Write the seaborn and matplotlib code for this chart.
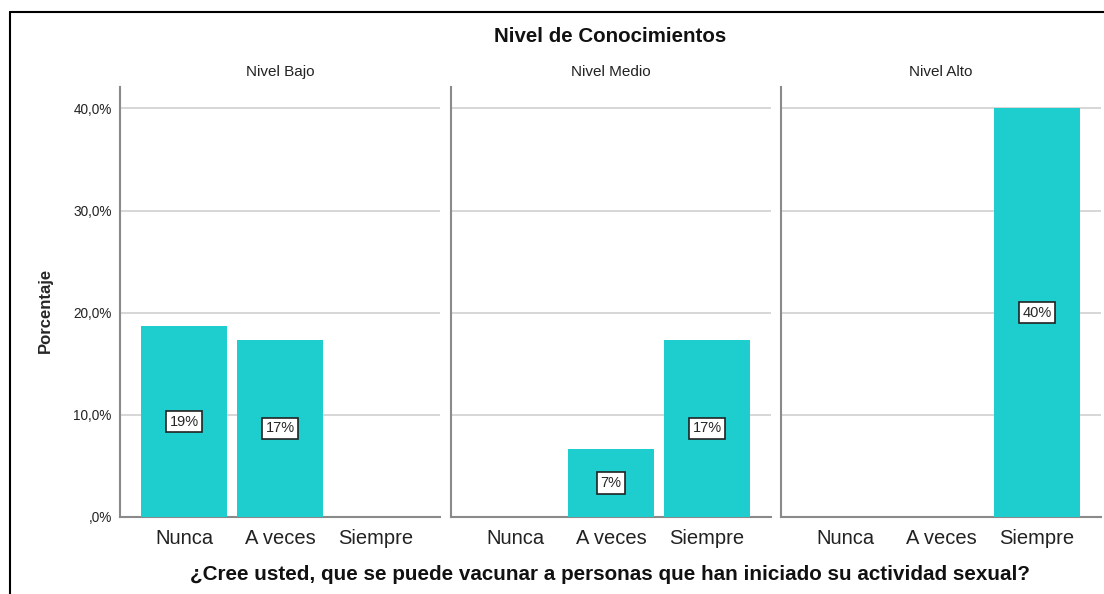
import pandas as pd
import seaborn as sns
import matplotlib.pyplot as plt
from matplotlib.lines import Line2D

# Data (percent of total, n = 75)
categorias = ['Nunca', 'A veces', 'Siempre']
niveles = ['Nivel Bajo', 'Nivel Medio', 'Nivel Alto']
pct_bajo = [18.67, 17.33, 0.0]
pct_medio = [0.0, 6.67, 17.33]
pct_alto = [0.0, 0.0, 40.0]
etiquetas_bajo = ['19%', '17%', '']
etiquetas_medio = ['', '7%', '17%']
etiquetas_alto = ['', '', '40%']

y_ticks = [0, 10, 20, 30, 40]
y_ticklabels = [',0%', '10,0%', '20,0%', '30,0%', '40,0%']

sns.set_style('white')
plt.rcParams['font.family'] = ['Liberation Sans', 'DejaVu Sans']

W, H = 1104, 594
fig = plt.figure(figsize=(W / 100, H / 100), dpi=100)

bar_color = '#1ECDCD'
grid_color = '#CFCFCF'
spine_color = '#8A8A8A'

valores = [pct_bajo, pct_medio, pct_alto]
etiquetas = [etiquetas_bajo, etiquetas_medio, etiquetas_alto]
lefts = [120, 451, 781]
panel_w = 320
top_px, bottom_px = 87, 517

for i, nivel in enumerate(niveles):
    ax = fig.add_axes([lefts[i] / W, 1 - bottom_px / H, panel_w / W, (bottom_px - top_px) / H])
    df = pd.DataFrame({'Respuesta': categorias, 'Porcentaje': valores[i]})
    sns.barplot(data=df, x='Respuesta', y='Porcentaje', order=categorias,
                color=bar_color, saturation=1, width=0.9, linewidth=0, ax=ax, zorder=3)
    ax.set_xlim(-0.667, 2.667)
    ax.set_ylim(0, 42.1)
    ax.set_yticks(y_ticks)
    for t in y_ticks[1:]:
        ax.axhline(t, color=grid_color, lw=1.2, zorder=1)
    if i == 0:
        ax.set_yticklabels(y_ticklabels, fontsize=9.8, color='#222222')
    else:
        ax.set_yticklabels([])
    ax.tick_params(axis='y', length=0, pad=6)
    ax.tick_params(axis='x', length=0, labelsize=14.5, colors='#222222', pad=9)
    ax.set_xlabel('')
    ax.set_ylabel('')
    for s in ['top', 'right']:
        ax.spines[s].set_visible(False)
    for s in ['left', 'bottom']:
        ax.spines[s].set_color(spine_color)
        ax.spines[s].set_linewidth(1.5)
    ax.set_title(nivel, fontsize=11, pad=8, color='#222222')

    # value labels at mid-height of each bar
    for j, (v, lab) in enumerate(zip(valores[i], etiquetas[i])):
        if lab:
            ax.text(j, v / 2, lab, ha='center', va='center', fontsize=10.5, zorder=5,
                    bbox=dict(boxstyle='square,pad=0.25', fc='white', ec='#222222', lw=1.2))

fig.text(610 / W, 1 - 37 / H, 'Nivel de Conocimientos', ha='center', va='center',
         fontsize=14.8, fontweight='bold', color='#111111')
fig.text(610 / W, 1 - 575 / H, '¿Cree usted, que se puede vacunar a personas que han iniciado su actividad sexual?',
         ha='center', va='center', fontsize=14.9, fontweight='bold', color='#111111')
fig.text(45 / W, 1 - 310 / H, 'Porcentaje', ha='center', va='center', rotation=90,
         fontsize=12, fontweight='bold', family=['Liberation Sans Narrow', 'Liberation Sans', 'DejaVu Sans'])

# outer frame (top and left edges)
fig.add_artist(Line2D([10 / W, 1], [1 - 12 / H, 1 - 12 / H], color='black', lw=1.5, transform=fig.transFigure))
fig.add_artist(Line2D([10 / W, 10 / W], [0, 1 - 12 / H], color='black', lw=1.5, transform=fig.transFigure))

fig.savefig('out.png', dpi=100, facecolor='white')
